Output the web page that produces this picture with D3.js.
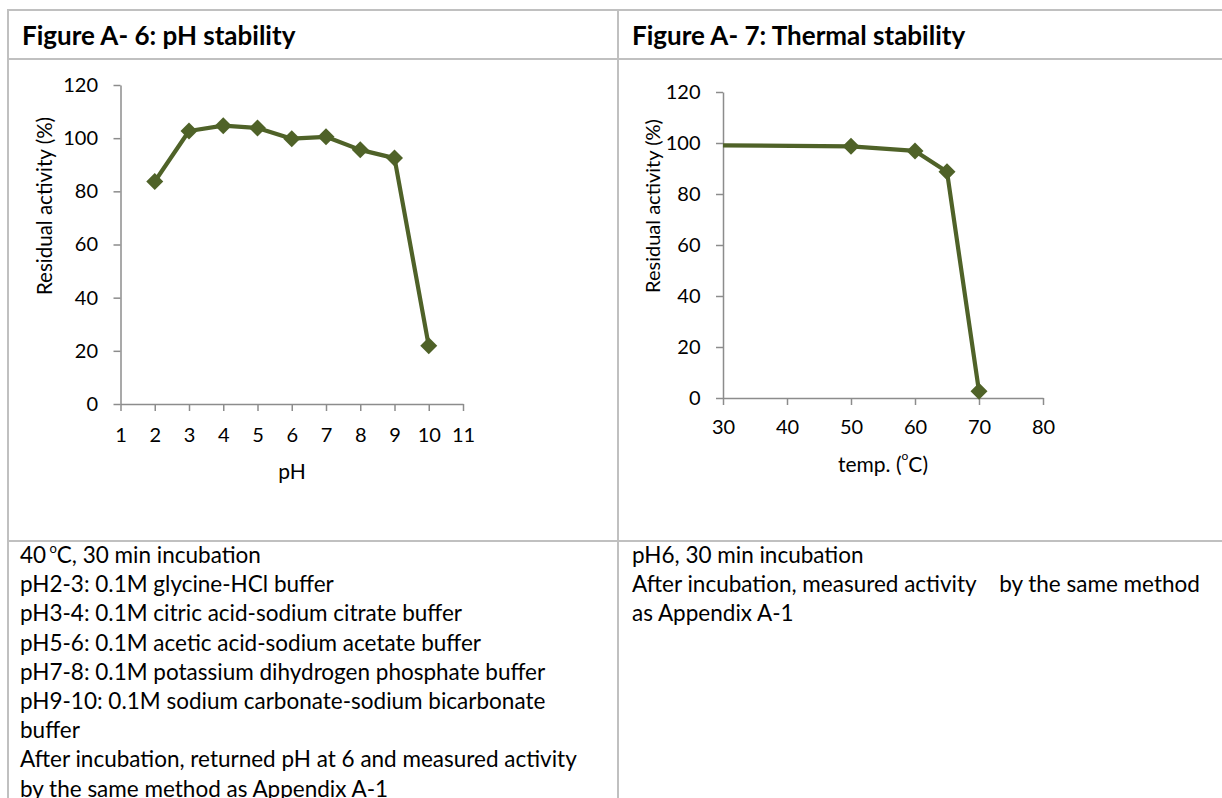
<!DOCTYPE html>
<html>
<head>
<meta charset="utf-8">
<script src="https://cdn.jsdelivr.net/npm/d3@7"></script>
<style>
  body { margin: 0; background: #fff; }
  svg { display: block; font-family: Lato, "Open Sans", sans-serif; }
  .note { white-space: pre; }
</style>
</head>
<body>
<script>
// pH stability data
const phValues = [2, 3, 4, 5, 6, 7, 8, 9, 10];
const phActivity = [83.7, 102.7, 104.7, 103.8, 99.8, 100.5, 95.6, 92.5, 21.9];
const phTicks = [1, 2, 3, 4, 5, 6, 7, 8, 9, 10, 11];

// thermal stability data
const tempValues = [30, 50, 60, 65, 70];
const tempActivity = [99.1, 98.7, 96.9, 88.7, 2.6];
const tempMarked = [false, true, true, true, true];
const tempTicks = [30, 40, 50, 60, 70, 80];

const yTicks = [0, 20, 40, 60, 80, 100, 120];

const titles = ["Figure A- 6: pH stability", "Figure A- 7: Thermal stability"];
const leftNotes = [
  "pH2-3: 0.1M glycine-HCl buffer",
  "pH3-4: 0.1M citric acid-sodium citrate buffer",
  "pH5-6: 0.1M acetic acid-sodium acetate buffer",
  "pH7-8: 0.1M potassium dihydrogen phosphate buffer",
  "pH9-10: 0.1M sodium carbonate-sodium bicarbonate",
  "buffer",
  "After incubation, returned pH at 6 and measured activity",
  "by the same method as Appendix A-1"
];
const rightNotes = [
  "pH6, 30 min incubation",
  "After incubation, measured activity    by the same method",
  "as Appendix A-1"
];

const width = 1222, height = 798;
const lineColor = "#4f6228", axisColor = "#8c8c8c", borderColor = "#c0c0c0";

const svg = d3.select("body").append("svg")
  .attr("width", width).attr("height", height);

// table grid
const grid = svg.append("g").attr("stroke", borderColor).attr("stroke-width", 2);
grid.append("line").attr("x1", 8).attr("x2", 8).attr("y1", 9).attr("y2", height);
grid.append("line").attr("x1", 618).attr("x2", 618).attr("y1", 9).attr("y2", height);
[10, 59, 541].forEach(y => grid.append("line").attr("x1", 7).attr("x2", width).attr("y1", y).attr("y2", y));

// header titles
svg.selectAll("text.title").data(titles).join("text")
  .attr("class", "title")
  .attr("x", (d, i) => i === 0 ? 22 : 632).attr("y", 45)
  .attr("font-size", 26).attr("font-weight", "bold").attr("fill", "#000")
  .text(d => d);

const diamond = "M0,-8.5L8.5,0L0,8.5L-8.5,0Z";

function chart(opt) {
  const x = d3.scaleLinear().domain(opt.xDomain).range(opt.xRange);
  const y = d3.scaleLinear().domain([0, 120]).range(opt.yRange);
  const g = svg.append("g");

  const xAxis = g.append("g").attr("transform", `translate(0,${opt.yRange[0]})`)
    .call(d3.axisBottom(x).tickValues(opt.xTicks).tickSize(7).tickPadding(opt.xPad).tickSizeOuter(0));
  const yAxis = g.append("g").attr("transform", `translate(${opt.xRange[0]},0)`)
    .call(d3.axisLeft(y).tickValues(yTicks).tickSize(7).tickPadding(15.5).tickSizeOuter(0));
  [xAxis, yAxis].forEach(a => {
    a.select(".domain").attr("stroke", axisColor).attr("stroke-width", 1.5);
    a.selectAll(".tick line").attr("stroke", axisColor).attr("stroke-width", 1.5);
    a.selectAll(".tick text").attr("font-size", 20).attr("fill", "#000")
      .attr("font-family", "Lato, sans-serif");
  });

  const pts = opt.xs.map((v, i) => ({ x: v, y: opt.ys[i], m: opt.marked ? opt.marked[i] : true }));
  g.append("path").datum(pts)
    .attr("fill", "none").attr("stroke", lineColor).attr("stroke-width", 4.2)
    .attr("stroke-linejoin", "round")
    .attr("d", d3.line().x(d => x(d.x)).y(d => y(d.y)));
  g.selectAll("path.mk").data(pts.filter(d => d.m)).join("path")
    .attr("class", "mk").attr("d", diamond)
    .attr("fill", lineColor)
    .attr("transform", d => `translate(${x(d.x)},${y(d.y)})`);

  g.append("text").attr("transform", `translate(${opt.yTitle[0]},${opt.yTitle[1]}) rotate(-90)`)
    .attr("text-anchor", "middle").attr("dominant-baseline", "central")
    .attr("font-size", opt.yTitleSize).text("Residual activity (%)");

  const xt = g.append("text").attr("x", opt.xTitle[0]).attr("y", opt.xTitle[1])
    .attr("text-anchor", "middle").attr("dominant-baseline", "central").attr("font-size", 21);
  opt.xLabel(xt);
}

chart({
  xDomain: [1, 11], xRange: [120.5, 463], yRange: [404, 85],
  xs: phValues, ys: phActivity, xTicks: phTicks, xPad: 17,
  yTitle: [44, 206], yTitleSize: 20.5, xTitle: [292, 470],
  xLabel: t => t.text("pH")
});

chart({
  xDomain: [30, 80], xRange: [723, 1043], yRange: [398, 92],
  xs: tempValues, ys: tempActivity, xTicks: tempTicks, marked: tempMarked, xPad: 15,
  yTitle: [652, 206], yTitleSize: 20, xTitle: [883, 463],
  xLabel: t => {
    t.append("tspan").text("temp. (");
    t.append("tspan").attr("font-size", 12).attr("dy", -8).text("o");
    t.append("tspan").attr("dy", 8).text("C)");
  }
});

// notes below charts
const lh = 29.2;
const left = svg.append("text").attr("class", "note").attr("font-size", 22.5).attr("fill", "#000");
const first = left.append("tspan").attr("x", 20).attr("y", 563);
first.append("tspan").text("40");
first.append("tspan").attr("font-size", 13).attr("dy", -10).text(" o");
first.append("tspan").attr("dy", 10).text("C, 30 min incubation");
leftNotes.forEach((d, i) => left.append("tspan").attr("x", 20).attr("y", 563 + lh * (i + 1)).text(d));

svg.append("text").attr("class", "note").attr("font-size", 22.5).attr("fill", "#000")
  .selectAll("tspan").data(rightNotes).join("tspan")
  .attr("x", 632).attr("y", (d, i) => 563 + lh * i).text(d => d);
</script>
</body>
</html>
